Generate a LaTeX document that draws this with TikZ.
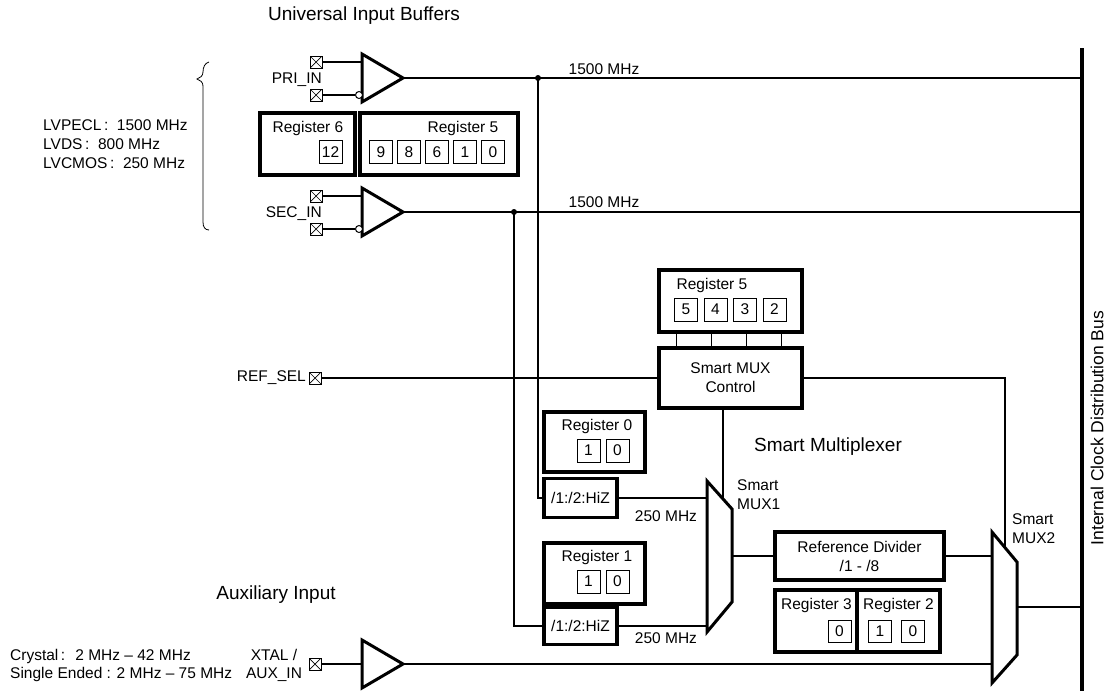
\documentclass[tikz,border=0pt]{standalone}
\usepackage{fontspec}
\setmainfont{Liberation Sans}
\begin{document}
\begin{tikzpicture}[x=1pt, y=-1pt,
    lbl/.style = {font=\fontsize{15.5}{19}\selectfont, inner sep=0pt},
    ttl/.style = {font=\fontsize{19}{23}\selectfont, inner sep=0pt},
    reg/.style 2 args = {draw, line width=3.5pt, minimum width=#1,
                minimum height=#2, inner sep=0pt},
    bit/.style = {draw, line width=0.8pt, minimum size=23pt, inner sep=0pt,
                font=\fontsize{15.5}{19}\selectfont},
    pin/.style = {draw, line width=0.9pt, minimum size=12pt, inner sep=0pt,
                path picture={\draw[line width=0.7pt]
                (path picture bounding box.north west) -- (path picture bounding box.south east)
                (path picture bounding box.north east) -- (path picture bounding box.south west);}},
    inv/.style = {circle, draw, fill=white, line width=1pt, minimum size=7pt, inner sep=0pt},
    dot/.style = {circle, fill, minimum size=6pt, inner sep=0pt},
    wire/.style = {line width=1.2pt},
    tri/.style = {line width=3pt, line join=miter}
                    ]
        \useasboundingbox (0,0) rectangle (1109,691);
        % clock distribution bus
        \coordinate (bus top) at (1082,48);
        \coordinate (bus bot) at (1082,691);
        \draw [line width=4pt] (bus top) -- (bus bot);
        \node[lbl, rotate=90, font=\fontsize{17.5}{20}\selectfont] (busname) at (1097,428) {Internal Clock Distribution Bus};
        % universal input buffers
        \node[ttl] (uib) at (364,16) {Universal Input Buffers};
        \foreach \n/\y/\t in {pri/78/PRI\_IN, sec/212/SEC\_IN} {
            \draw [tri] (362,\y-24) -- (403,\y) -- (362,\y+24) -- cycle;
            \coordinate (\n out) at (403,\y);
            \coordinate (\n in) at (362,\y-16);
            \node[pin] (\n p) at (316,\y-16) {};
            \node[pin] (\n n) at (316,\y+17) {};
            \node[inv] (\n bub) at (359,\y+17) {};
            \node[lbl, anchor=east] (\n name) at (322,\y+2) {\t};
            \draw [wire] (\n p) -- (\n in);
            \draw [wire] (\n n) -- (\n bub);
            \draw [wire] (\n out) -- (\n out -| bus top);
        }
        \draw [line width=0.8pt] (209,62) .. controls (205,63) and (203,67) .. (203,72)
            .. controls (203,76) and (200,78) .. (197,79)
            .. controls (200,80) and (203,82) .. (203,86) -- (203,222)
            .. controls (203,227) and (205,230) .. (209,230);
        \node[lbl, align=left, anchor=west] (levels) at (43,144)
            {LVPECL\,:~ 1500 MHz\\LVDS\,:~ 800 MHz\\LVCMOS\,:~ 250 MHz};
        \node[lbl] (f pri) at (604,69) {1500 MHz};
        \node[lbl] (f sec) at (604,202) {1500 MHz};
        \node[dot] (pri tap) at (538,78) {};
        \node[dot] (sec tap) at (514,212) {};
        % registers 6 and 5
        \node[reg={95pt}{62pt}] (reg6) at (307.5,144) {};
        \node[lbl] (reg6 t) at (308,128) {Register 6};
        \node[bit] (reg6 b12) at (330.5,152) {12};
        \node[reg={158pt}{62pt}] (reg5a) at (439,144) {};
        \node[lbl] (reg5a t) at (463,128) {Register 5};
        \foreach \b [count=\i] in {9,8,6,1,0}
            \node[bit] (reg5a b\b) at (353+28*\i,152) {\b};
        % smart multiplexer
        \node[reg={143pt}{62pt}] (reg5b) at (730.5,301) {};
        \node[lbl] (reg5b t) at (712,285) {Register 5};
        \foreach \b [count=\i] in {5,4,3,2}
            \node[bit] (reg5b b\b) at (656.5+29.5*\i,309.5) {\b};
        \node[reg={143pt}{60pt}, lbl, align=center] (ctrl) at (730.5,378) {Smart MUX\\Control};
        \foreach \d in {19,54,89,124}
            \draw [wire] ([xshift=\d pt]reg5b.south west) -- ([xshift=\d pt]ctrl.north west);
        \node[lbl, anchor=east] (refsel name) at (306,378) {REF\_SEL};
        \node[pin] (refsel) at (315,378) {};
        \draw [wire] (refsel) -- (ctrl);
        \node[ttl] (smx) at (828,447) {Smart Multiplexer};
        \node[reg={101pt}{60pt}] (reg0) at (594.5,442) {};
        \node[lbl] (reg0 t) at (597,426) {Register 0};
        \node[bit] (reg0 b1) at (588.5,450.5) {1};
        \node[bit] (reg0 b0) at (617.5,450.5) {0};
        \node[reg={73pt}{39pt}, lbl] (hiz0) at (580.5,498) {/1:/2:HiZ};
        \node[reg={101pt}{61pt}] (reg1) at (594.5,573.5) {};
        \node[lbl] (reg1 t) at (597,557) {Register 1};
        \node[bit] (reg1 b1) at (588.5,581.5) {1};
        \node[bit] (reg1 b0) at (617.5,581.5) {0};
        \node[reg={73pt}{37pt}, lbl] (hiz1) at (580.5,626) {/1:/2:HiZ};
        \draw [wire] (pri tap.center) |- (hiz0.west);
        \draw [wire] (sec tap.center) |- (hiz1.west);
        \node[lbl] (f hiz0) at (666,516) {250 MHz};
        \node[lbl] (f hiz1) at (666,638) {250 MHz};
        \draw [tri] (707,481) -- (732,509) -- (732,602) -- (707,632) -- cycle;
        \coordinate (mux1 a) at (707,498);
        \coordinate (mux1 b) at (707,626);
        \coordinate (mux1 out) at (732,556);
        \coordinate (mux1 sel) at (723,499);
        \node[lbl, align=left, anchor=west] (mux1 name) at (737,495) {Smart\\MUX1};
        \draw [wire] (hiz0) -- (mux1 a);
        \draw [wire] (hiz1) -- (mux1 b);
        \draw [wire] (ctrl.south -| mux1 sel) -- (mux1 sel);
        \node[reg={169pt}{48pt}, lbl, align=center] (refdiv) at (859.5,556) {Reference Divider\\/1 - /8};
        \draw [wire] (mux1 out) -- (refdiv);
        \node[reg={82pt}{62pt}] (reg3) at (816,621) {};
        \node[reg={83pt}{62pt}] (reg2) at (898.5,621) {};
        \node[lbl] (reg3 t) at (816.5,605) {Register 3};
        \node[lbl] (reg2 t) at (898.5,605) {Register 2};
        \node[bit, minimum height=22pt] (reg3 b0) at (839.5,631) {0};
        \node[bit, minimum height=22pt] (reg2 b1) at (880,631) {1};
        \node[bit, minimum height=22pt] (reg2 b0) at (913,631) {0};
        \draw [tri] (992,532) -- (1017,562) -- (1017,655) -- (992,683) -- cycle;
        \coordinate (mux2 a) at (992,556);
        \coordinate (mux2 b) at (992,664);
        \coordinate (mux2 out) at (1017,607);
        \coordinate (mux2 sel) at (1005,547);
        \node[lbl, align=left, anchor=west] (mux2 name) at (1012,529) {Smart\\MUX2};
        \draw [wire] (refdiv) -- (mux2 a);
        \draw [wire] (ctrl.east) -| (mux2 sel);
        \draw [wire] (mux2 out) -- (mux2 out -| bus top);
        % auxiliary input
        \node[ttl] (auxname) at (276,595) {Auxiliary Input};
        \node[lbl, align=left, anchor=west, font=\fontsize{15.5}{18}\selectfont] (xtal range) at (10,665)
            {Crystal\,:~ 2 MHz – 42 MHz\\Single Ended : 2 MHz – 75 MHz};
        \node[lbl, align=center, font=\fontsize{15.5}{18}\selectfont] (xtal name) at (274,665) {XTAL /\\AUX\_IN};
        \node[pin] (aux p) at (315,664) {};
        \draw [tri] (362,640) -- (403,664) -- (362,688) -- cycle;
        \coordinate (aux in) at (362,664);
        \coordinate (aux out) at (403,664);
        \draw [wire] (aux p) -- (aux in);
        \draw [wire] (aux out) -- (mux2 b);
    \end{tikzpicture}
\end{document}
